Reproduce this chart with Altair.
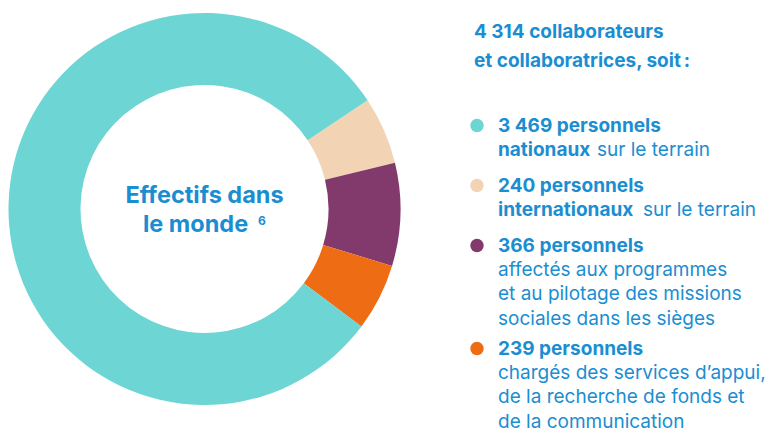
import math
import altair as alt
import pandas as pd

# ---- data ----
categories = ["internationaux", "sieges", "appui", "nationaux"]
values = [240, 366, 239, 3469]
colors = ["#F2D4B5", "#823A6C", "#EE6C14", "#6DD5D3"]

legend_order = ["nationaux", "internationaux", "sieges", "appui"]
legend_first = ["3 469 personnels", "240 personnels", "366 personnels", "239 personnels"]
legend_bold2 = ["nationaux", "internationaux", "", ""]
legend_rest = [
    ["sur le terrain"],
    ["sur le terrain"],
    ["affectés aux programmes", "et au pilotage des missions", "sociales dans les sièges"],
    ["chargés des services d’appui,", "de la recherche de fonds et", "de la communication"],
]
header_lines = ["4 314 collaborateurs", "et collaboratrices, soit\u202f:"]
center_lines = ["Effectifs dans", "le monde"]
center_sup = "6"

# ---- style / layout ----
BLUE = "#1A8ED1"
FONT = "Inter"
FS = 19
W, H = 762, 425
CX, CY = 196.5, 201
START = math.radians(56.3)

arc_df = pd.DataFrame({"cat": categories, "value": values, "ord": list(range(len(values)))})

donut = alt.Chart(arc_df).mark_arc(innerRadius=124, outerRadius=196, stroke=None).encode(
    theta=alt.Theta("value:Q", stack=True,
                    scale=alt.Scale(range=[START, START + 2 * math.pi])),
    color=alt.Color("cat:N", scale=alt.Scale(domain=categories, range=colors), legend=None),
    order=alt.Order("ord:Q"),
    x=alt.value(CX),
    y=alt.value(CY),
)

# text rows
TX = 490  # text left (plot coords)
rows = []
rows.append(dict(text=header_lines[0], x=466, y=30, w="bold"))
rows.append(dict(text=header_lines[1], x=466, y=59, w="bold"))
group_y = [124, 184, 244, 347]
LS = 24.2
bold2_regular_x = [589, 635]
dots = []
for i, cat in enumerate(legend_order):
    y0 = group_y[i]
    rows.append(dict(text=legend_first[i], x=TX, y=y0, w="bold"))
    dots.append(dict(cat=cat, x=469, y=y0 - 6.5))
    if legend_bold2[i]:
        rows.append(dict(text=legend_bold2[i], x=TX, y=y0 + LS, w="bold"))
        rows.append(dict(text=legend_rest[i][0], x=bold2_regular_x[i], y=y0 + LS, w="normal"))
    else:
        for j, line in enumerate(legend_rest[i]):
            rows.append(dict(text=line, x=TX, y=y0 + LS * (j + 1), w="normal"))
text_df = pd.DataFrame(rows)

def text_layer(weight, size):
    return alt.Chart(text_df).transform_filter(alt.datum.w == weight).mark_text(
        align="left", baseline="alphabetic", font=FONT, fontSize=size,
        fontWeight=weight, color=BLUE,
    ).encode(
        x=alt.X("x:Q", scale=None, axis=None),
        y=alt.Y("y:Q", scale=None, axis=None),
        text="text:N",
    )

bold_txt = text_layer("bold", FS)
reg_txt = text_layer("normal", FS)

dot_df = pd.DataFrame(dots)
dot_layer = alt.Chart(dot_df).mark_circle(size=180, opacity=1).encode(
    x=alt.X("x:Q", scale=None, axis=None),
    y=alt.Y("y:Q", scale=None, axis=None),
    color=alt.Color("cat:N", scale=alt.Scale(domain=categories, range=colors), legend=None),
)

center_df = pd.DataFrame({"text": center_lines, "x": [CX, 187.5], "y": [195, 224]})
center_txt = alt.Chart(center_df).mark_text(
    align="center", baseline="alphabetic", font=FONT, fontSize=23.5,
    fontWeight="bold", color=BLUE,
).encode(
    x=alt.X("x:Q", scale=None, axis=None),
    y=alt.Y("y:Q", scale=None, axis=None),
    text="text:N",
)
sup_df = pd.DataFrame({"text": [center_sup], "x": [250], "y": [217]})
sup_txt = alt.Chart(sup_df).mark_text(
    align="left", baseline="alphabetic", font=FONT, fontSize=12,
    fontWeight="bold", color=BLUE,
).encode(
    x=alt.X("x:Q", scale=None, axis=None),
    y=alt.Y("y:Q", scale=None, axis=None),
    text="text:N",
)

chart = alt.layer(donut, center_txt, sup_txt, dot_layer, bold_txt, reg_txt).properties(
    width=W, height=H, padding=0, autosize=alt.AutoSizeParams(type="none"),
    background="white",
).configure_view(stroke=None)

chart.save("out.html", embed_options={"renderer": "svg", "actions": False})
